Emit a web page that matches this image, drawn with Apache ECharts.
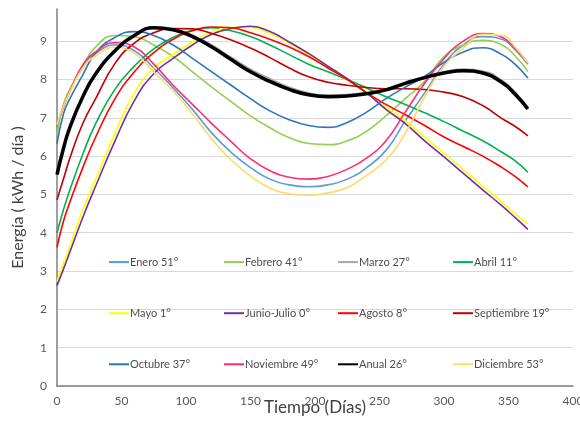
<!DOCTYPE html>
<html>
<head>
<meta charset="utf-8">
<script src="https://cdn.jsdelivr.net/npm/echarts@6/dist/echarts.min.js"></script>
<style>
html,body{margin:0;padding:0;background:#fff;}
#chart{width:580px;height:421px;}
</style>
</head>
<body>
<div id="chart"></div>
<script>
// Days sampled along the x axis (Tiempo, días)
const days = [0,5,10,20,30,45,60,75,90,105,120,135,150,165,180,195,210,225,240,255,270,285,300,315,330,345,355,365];

const xTicks = [0,50,100,150,200,250,300,350,400];
const yTicks = [0,1,2,3,4,5,6,7,8,9];

const seriesNames = ["Enero 51°","Febrero 41°","Marzo 27°","Abril 11°","Mayo 1°","Junio-Julio 0°","Agosto 8°","Septiembre 19°","Octubre 37°","Noviembre 49°","Anual 26°","Diciembre 53°"];

const enero      = [6.75,7.28,7.68,8.35,8.68,8.9,8.75,8.3,7.78,7.22,6.6,6.1,5.7,5.4,5.25,5.2,5.25,5.4,5.7,6.15,6.92,7.65,8.4,8.9,9.12,9.05,8.78,8.4];
const febrero    = [6.55,7.35,7.75,8.35,8.85,9.15,9.12,8.9,8.6,8.2,7.8,7.42,7.05,6.74,6.48,6.33,6.3,6.4,6.65,7.05,7.5,7.95,8.6,8.9,9.02,8.9,8.62,8.21];
const marzo      = [5.55,6.22,6.77,7.57,8.17,8.77,9.17,9.36,9.32,9.16,8.9,8.58,8.27,8.02,7.8,7.65,7.6,7.61,7.66,7.76,7.93,8.08,8.2,8.27,8.22,7.98,7.68,7.28];
const abril      = [4.0,4.6,5.12,6.05,6.85,7.75,8.35,8.8,9.1,9.28,9.35,9.27,9.12,8.9,8.65,8.4,8.2,8.0,7.78,7.55,7.35,7.13,6.9,6.65,6.4,6.1,5.88,5.58];
const mayo       = [2.72,3.2,3.65,4.6,5.4,6.6,7.65,8.3,8.65,8.98,9.24,9.36,9.36,9.2,8.95,8.65,8.33,8.0,7.68,7.28,6.92,6.5,6.08,5.65,5.22,4.8,4.5,4.23];
const junioJulio = [2.62,3.05,3.5,4.4,5.22,6.4,7.45,8.15,8.55,8.9,9.18,9.33,9.39,9.25,8.98,8.68,8.35,8.02,7.65,7.22,6.85,6.4,5.98,5.55,5.12,4.7,4.4,4.09];
const agosto     = [3.62,4.3,4.8,5.7,6.5,7.5,8.2,8.7,9.05,9.27,9.37,9.35,9.22,9.05,8.85,8.6,8.3,8.0,7.65,7.35,7.08,6.8,6.5,6.25,6.0,5.7,5.47,5.2];
const septiembre = [4.86,5.4,5.95,6.85,7.5,8.42,8.95,9.22,9.33,9.32,9.2,9.03,8.82,8.57,8.3,8.07,7.93,7.85,7.79,7.76,7.76,7.74,7.67,7.55,7.32,6.98,6.78,6.53];
const octubre    = [6.32,7.1,7.5,8.12,8.7,9.1,9.25,9.15,8.9,8.55,8.2,7.85,7.5,7.18,6.95,6.8,6.75,6.88,7.15,7.5,7.8,8.08,8.45,8.72,8.83,8.65,8.4,8.04];
const noviembre  = [6.8,7.3,7.7,8.38,8.72,8.96,8.85,8.4,7.85,7.35,6.85,6.38,5.93,5.62,5.45,5.4,5.47,5.66,5.95,6.4,7.15,7.9,8.55,9.0,9.2,9.1,8.82,8.43];
const anual      = [5.52,6.2,6.75,7.55,8.15,8.75,9.15,9.35,9.3,9.12,8.85,8.52,8.2,7.95,7.74,7.6,7.55,7.57,7.63,7.73,7.9,8.05,8.17,8.23,8.17,7.92,7.62,7.23];
const diciembre  = [6.82,7.3,7.68,8.3,8.62,8.84,8.68,8.2,7.7,7.1,6.45,5.9,5.48,5.17,5.02,4.98,5.04,5.18,5.5,5.9,6.6,7.55,8.35,8.82,9.18,9.15,8.85,8.43];

const allValues = [enero,febrero,marzo,abril,mayo,junioJulio,agosto,septiembre,octubre,noviembre,anual,diciembre];
const colors = ['#5B9BD5','#92D050','#A5A5A5','#00B050','#FFFF00','#7030A0','#FF0000','#C00000','#2E75B6','#FF2D6F','#000000','#FFD966'];

const FONT = 'Lato, "Open Sans", sans-serif';

const series = seriesNames.map((name, i) => ({
  name: name,
  type: 'line',
  smooth: true,
  symbol: 'none',
  showSymbol: false,
  z: name === 'Anual 26°' ? 5 : 2,
  color: colors[i],
  lineStyle: { width: name === 'Anual 26°' ? 3.5 : 1.6, color: colors[i] },
  data: days.map((d, j) => [d, allValues[i][j]])
}));

const cols = [
  ["Enero 51°","Mayo 1°","Octubre 37°"],
  ["Febrero 41°","Junio-Julio 0°","Noviembre 49°"],
  ["Marzo 27°","Agosto 8°","Anual 26°"],
  ["Abril 11°","Septiembre 19°","Diciembre 53°"]
];
const colLeft = [108,223,337,452];
const legends = cols.map((c, k) => ({
  data: c,
  orient: 'vertical',
  left: colLeft[k],
  top: 256.5,
  padding: 0,
  itemWidth: 20,
  itemHeight: 14,
  itemGap: 39.9,
  selectedMode: false,
  itemStyle: { opacity: 0 },
  textStyle: { fontSize: 11, color: '#4d4d4d', fontFamily: FONT, padding: [0,0,0,-4] }
}));

const chart = echarts.init(document.getElementById('chart'), null, { renderer: 'canvas' });
chart.setOption({
  animation: false,
  backgroundColor: '#ffffff',
  grid: { left: 57, right: 7, top: 9, bottom: 35, containLabel: false, outerBoundsMode: 'none' },
  legend: legends,
  xAxis: {
    type: 'value',
    min: xTicks[0],
    max: xTicks[xTicks.length - 1],
    interval: 50,
    name: 'Tiempo (Días)',
    nameLocation: 'middle',
    nameGap: 13,
    nameMoveOverlap: false,
    nameTextStyle: { fontSize: 17, color: '#404040', fontFamily: FONT },
    axisLine: { show: true, lineStyle: { color: '#7f7f7f', width: 1.5 } },
    axisTick: { show: false },
    splitLine: { show: false },
    axisLabel: { margin: 9, fontSize: 12, color: '#595959', fontFamily: FONT }
  },
  yAxis: {
    type: 'value',
    min: yTicks[0],
    max: 9.84,
    interval: 1,
    name: 'Energía ( kWh / día )',
    nameLocation: 'middle',
    nameRotate: 90,
    nameGap: 31,
    nameMoveOverlap: false,
    nameTextStyle: { fontSize: 16, color: '#404040', fontFamily: FONT },
    axisLine: { show: true, lineStyle: { color: '#7f7f7f', width: 1.5 } },
    axisTick: { show: false },
    splitLine: { show: true, showMaxLine: false, lineStyle: { color: '#d9d9d9', width: 1 } },
    axisLabel: { margin: 10, fontSize: 12, color: '#595959', fontFamily: FONT, showMaxLabel: false }
  },
  series: series
});
</script>
</body>
</html>
